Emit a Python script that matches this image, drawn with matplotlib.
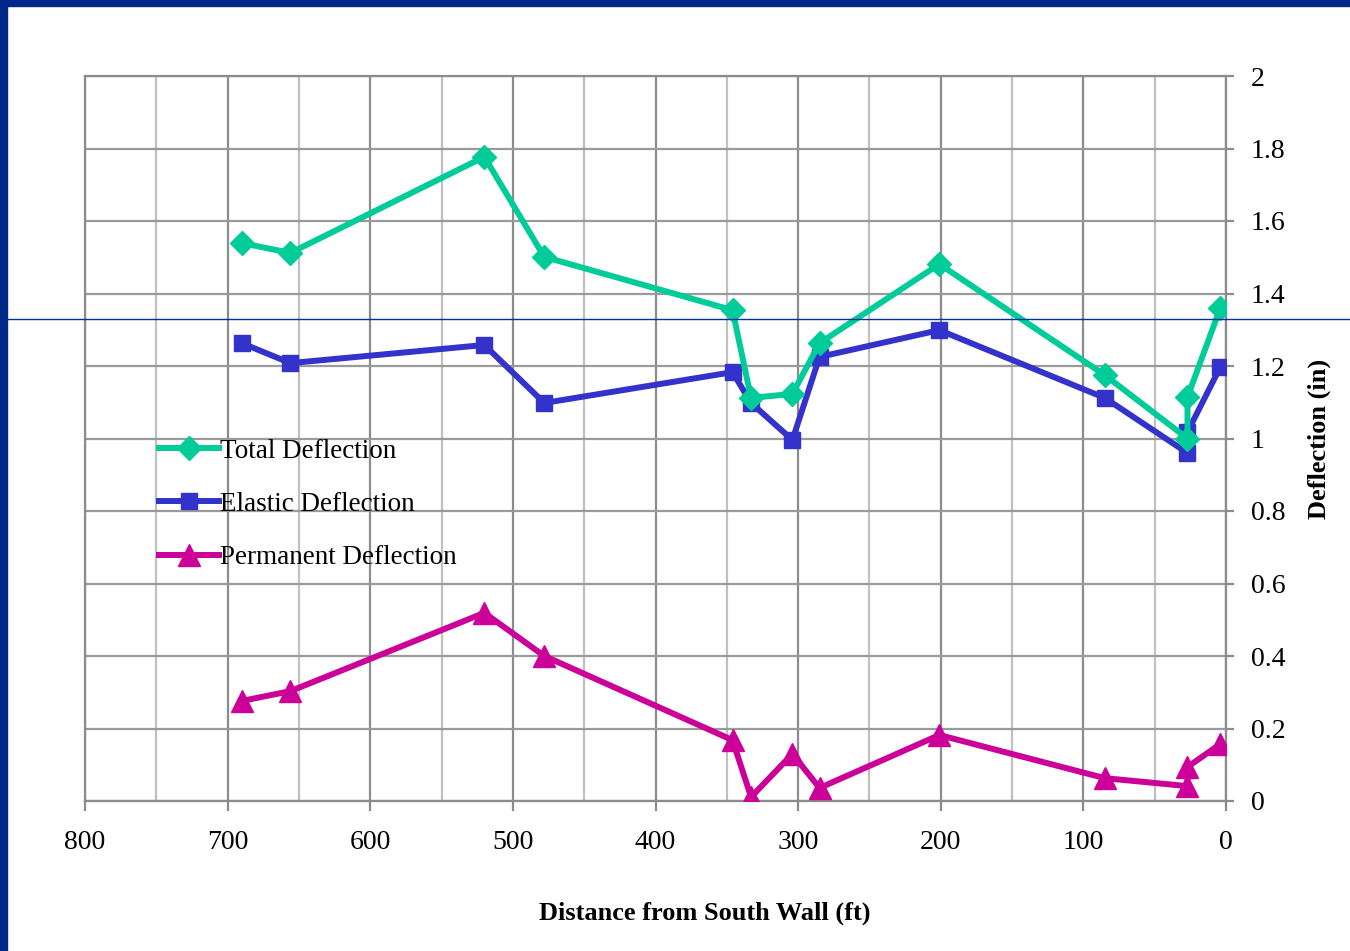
import matplotlib
matplotlib.use("Agg")
import matplotlib.pyplot as plt
from matplotlib.lines import Line2D
from matplotlib.patches import Rectangle
from matplotlib.ticker import MultipleLocator

plt.rcParams['font.family'] = ['Liberation Serif', 'DejaVu Serif']

# Distance from the south wall (ft) for each reading
distance = [690, 656, 520, 478, 346, 333, 304, 285, 201, 85, 27, 27, 4]

total_deflection = [1.539, 1.512, 1.777, 1.501, 1.354, 1.112, 1.123, 1.263,
                    1.481, 1.175, 1.000, 1.114, 1.360]
elastic_deflection = [1.263, 1.208, 1.258, 1.098, 1.183, 1.098, 0.996, 1.225,
                      1.299, 1.112, 0.960, 1.018, 1.197]
permanent_deflection = [0.276, 0.303, 0.519, 0.400, 0.168, 0.011, 0.130, 0.036,
                        0.182, 0.063, 0.041, 0.094, 0.157]

x_ticks = [800, 700, 600, 500, 400, 300, 200, 100, 0]
y_ticks = [0, 0.2, 0.4, 0.6, 0.8, 1, 1.2, 1.4, 1.6, 1.8, 2]
y_tick_labels = ['0', '0.2', '0.4', '0.6', '0.8', '1', '1.2', '1.4', '1.6', '1.8', '2']

fig = plt.figure(figsize=(13.5, 9.51), dpi=100)
ax = fig.add_axes([85 / 1350, 1 - 801 / 951, (1226 - 85) / 1350, (801 - 76) / 951])

# Slide frame: dark blue bands along the top and left edges
border = '#00288A'
fig.patches.append(Rectangle((0, 1 - 6 / 951), 1, 6 / 951, transform=fig.transFigure,
                             color=border, zorder=0))
fig.patches.append(Rectangle((0, 0), 7 / 1350, 1, transform=fig.transFigure,
                             color=border, zorder=0))
fig.lines.append(Line2D([7 / 1350, 1], [1 - 318.5 / 951] * 2, transform=fig.transFigure,
                        color='#0030A0', linewidth=1.0, zorder=10))

green = '#00CC99'
blue = '#3333CC'
magenta = '#CC0099'

ax.plot(distance, total_deflection, color=green, lw=4.3, marker='D', ms=12,
        label='Total Deflection', zorder=5)
ax.plot(distance, elastic_deflection, color=blue, lw=4.3, marker='s', ms=12,
        label='Elastic Deflection', zorder=4)
ax.plot(distance, permanent_deflection, color=magenta, lw=4.3, marker='^', ms=16,
        label='Permanent Deflection', zorder=3)

ax.set_xlim(800, 0)
ax.set_ylim(0, 2)
ax.set_xticks(x_ticks)
ax.set_yticks(y_ticks)
ax.set_yticklabels(y_tick_labels)
ax.xaxis.set_minor_locator(MultipleLocator(50))

ax.yaxis.tick_right()
ax.yaxis.set_label_position('right')

ax.grid(which='major', axis='x', color='#8C8C8C', lw=1.6)
ax.grid(which='minor', axis='x', color='#C0C0C0', lw=1.6)
ax.grid(which='major', axis='y', color='#9A9A9A', lw=1.6)
ax.set_axisbelow(True)

for s in ax.spines.values():
    s.set_color('#8C8C8C')
    s.set_linewidth(1.6)

ax.tick_params(axis='x', which='major', direction='out', length=7, width=1.6,
               color='#8C8C8C', labelsize=20, pad=14)
ax.tick_params(axis='x', which='minor', length=0)
ax.tick_params(axis='y', direction='out', length=6, width=1.6, color='#8C8C8C',
               labelsize=20, pad=12, right=True, left=False)

ax.set_xlabel('Distance from South Wall (ft)', fontsize=19, fontweight='bold')
ax.xaxis.set_label_coords((705 - 85) / 1141, -(902 - 801) / 725)
ax.set_ylabel('Deflection (in)', fontsize=19, fontweight='bold', labelpad=16)

leg = ax.legend(loc='upper left', bbox_to_anchor=(0.065, 0.50), frameon=False,
                fontsize=19.5, handlelength=2.2, handletextpad=0.05, labelspacing=1.05,
                borderaxespad=0, borderpad=0)

fig.savefig('out.png', dpi=100, facecolor='white')
